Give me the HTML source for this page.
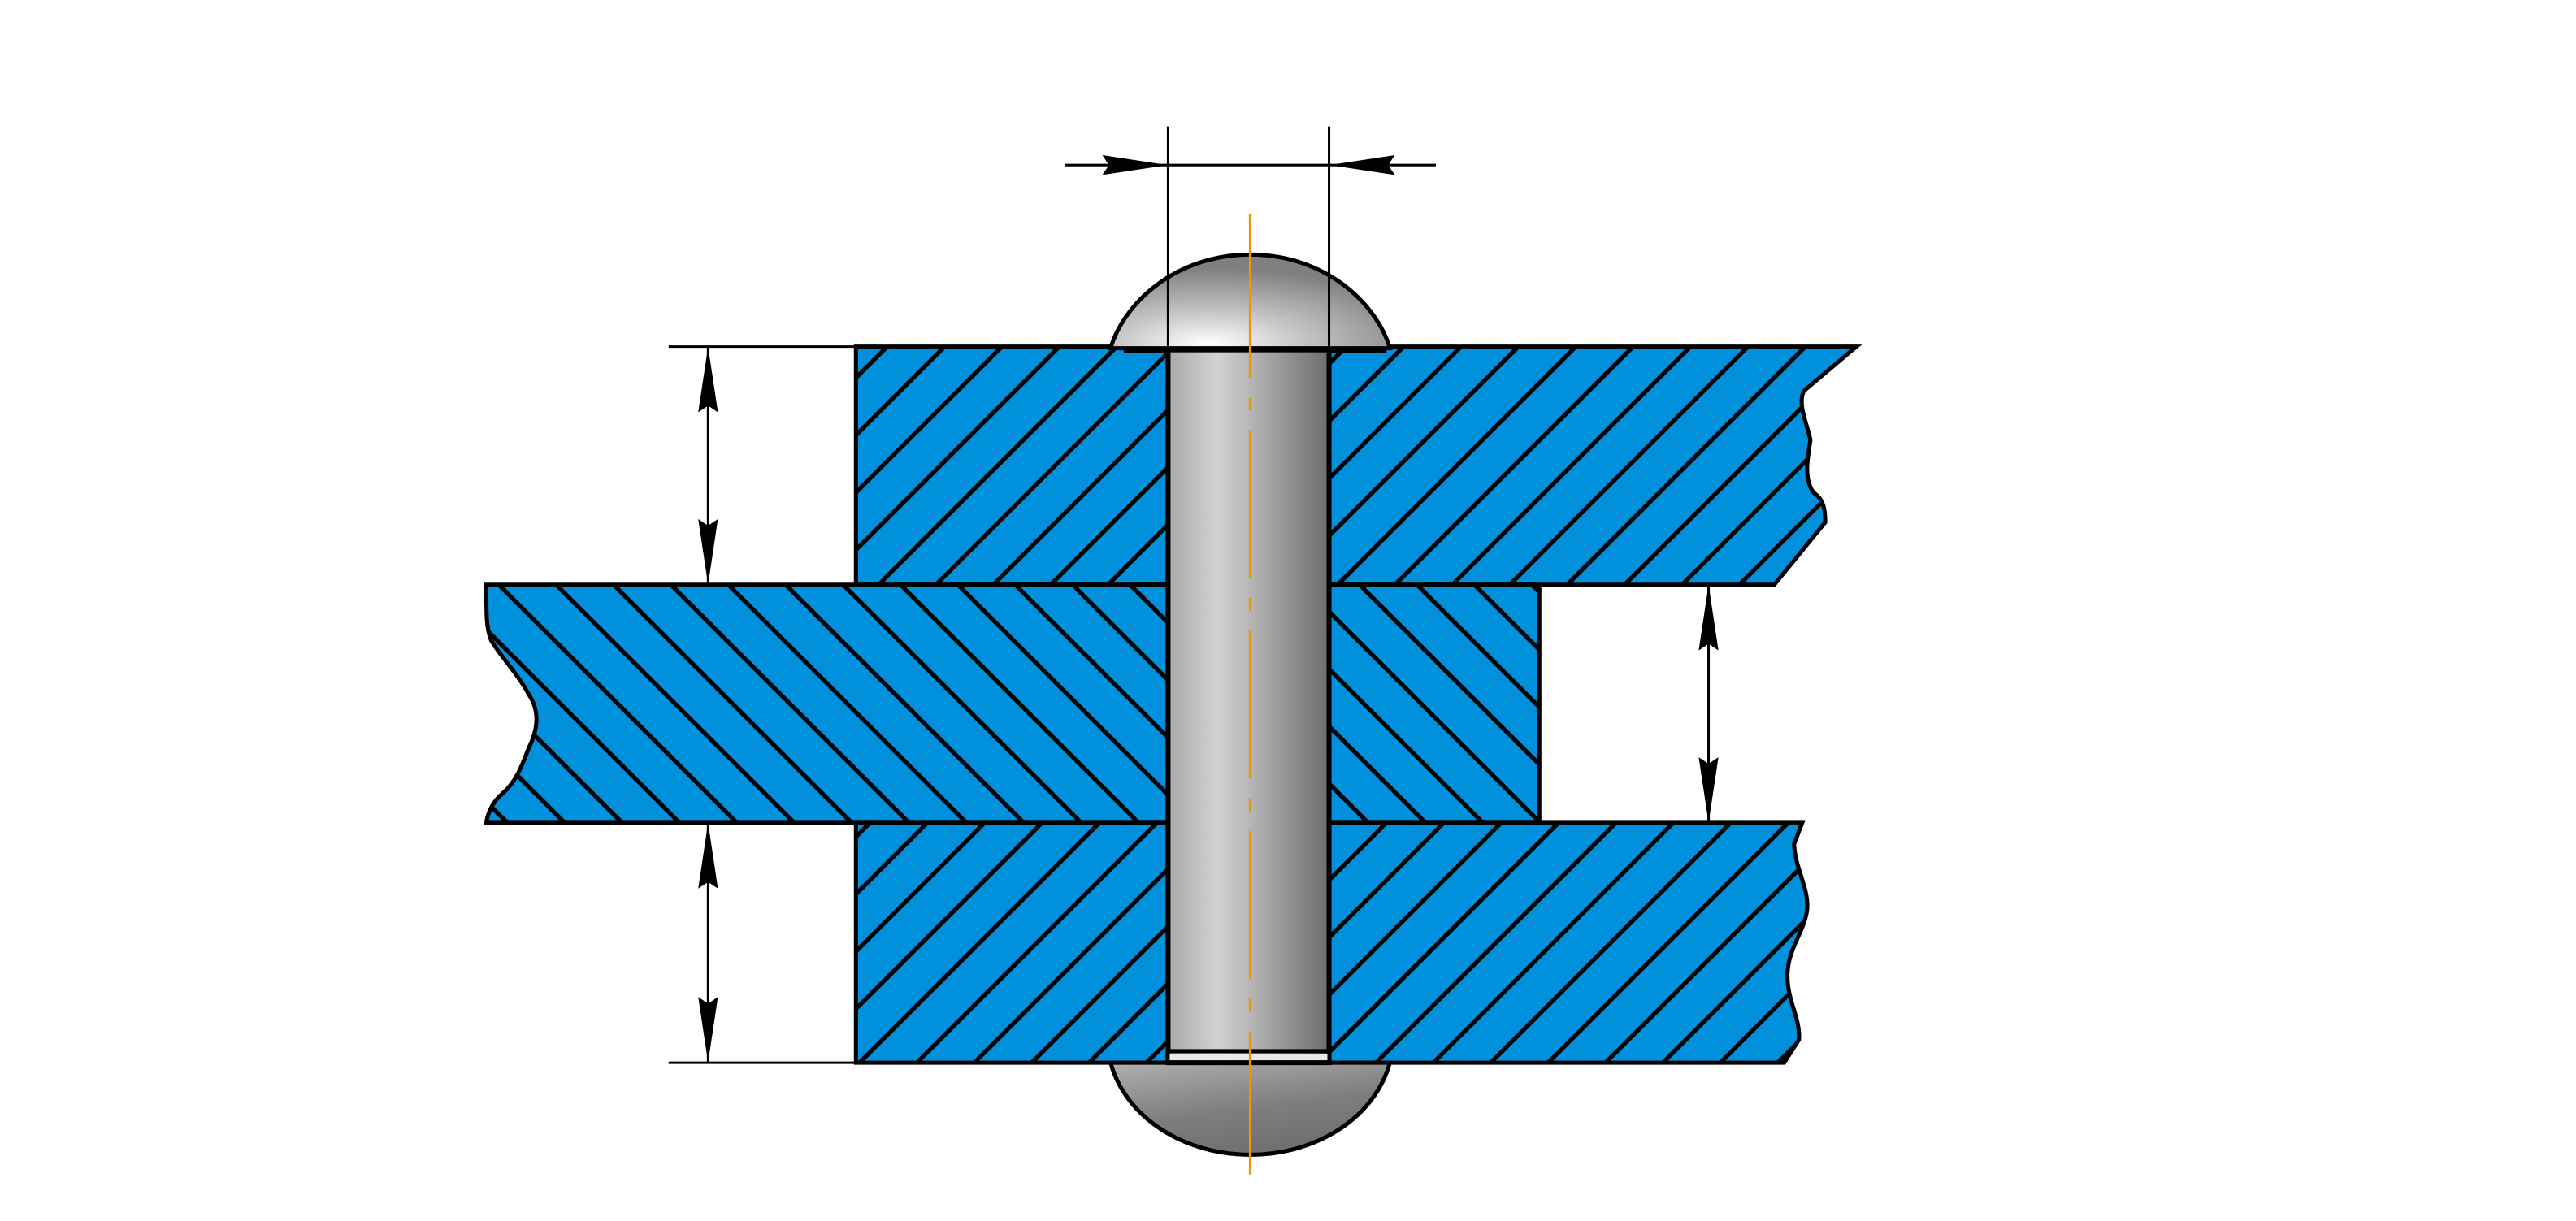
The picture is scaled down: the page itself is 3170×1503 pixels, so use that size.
<!DOCTYPE html>
<html><head><meta charset="utf-8"><style>
html,body{margin:0;padding:0;background:#fff;}
svg{display:block;}
</style></head><body>
<svg width="3170" height="1503" viewBox="0 0 1568 743.4" preserveAspectRatio="none" xmlns="http://www.w3.org/2000/svg">
<defs>
<pattern id="hf" patternUnits="userSpaceOnUse" width="24.7" height="24.7" patternTransform="rotate(45)">
<rect width="24.7" height="24.7" fill="#0090DC"/>
<line x1="12.35" y1="-1" x2="12.35" y2="25.7" stroke="#000" stroke-width="2.6"/>
</pattern>
<pattern id="hb" patternUnits="userSpaceOnUse" width="24.7" height="24.7" patternTransform="rotate(-45)">
<rect width="24.7" height="24.7" fill="#0090DC"/>
<line x1="12.35" y1="-1" x2="12.35" y2="25.7" stroke="#000" stroke-width="2.6"/>
</pattern>
<linearGradient id="shank" x1="0" x2="1" y1="0" y2="0">
<stop offset="0" stop-color="#a8a8a8"/>
<stop offset="0.3" stop-color="#d2d2d2"/>
<stop offset="0.55" stop-color="#b0b0b0"/>
<stop offset="0.8" stop-color="#8a8a8a"/>
<stop offset="1" stop-color="#6e6e6e"/>
</linearGradient>
<radialGradient id="headT" cx="0.35" cy="0.95" r="0.8">
<stop offset="0" stop-color="#ffffff"/>
<stop offset="0.4" stop-color="#c8c8c8"/>
<stop offset="1" stop-color="#808080"/>
</radialGradient>
<linearGradient id="headB" x1="0" y1="0" x2="0.4" y2="1">
<stop offset="0" stop-color="#b0b0b0"/>
<stop offset="0.6" stop-color="#7e7e7e"/>
<stop offset="1" stop-color="#707070"/>
</linearGradient>
<marker id="ar" viewBox="0 0 40 12" refX="40" refY="6" markerWidth="40" markerHeight="12" markerUnits="userSpaceOnUse" orient="auto">
<path d="M0,0 L40,6 L0,12 L4,6 Z" fill="#000"/>
</marker>
<marker id="as" viewBox="0 0 40 12" refX="40" refY="6" markerWidth="40" markerHeight="12" markerUnits="userSpaceOnUse" orient="auto-start-reverse">
<path d="M0,0 L40,6 L0,12 L4,6 Z" fill="#000"/>
</marker>
</defs>

<path d="M521,211 L1130,211 L1098,238 C1094,246 1100,258 1102,268 C1100,280 1098,292 1104,300 C1110,304 1111,310 1111,318 L1080,356 L521,356 Z" fill="url(#hf)" stroke="#000" stroke-width="2.5"/>
<path d="M296,356 L937,356 L937,501 L296,501 C297,494 300,488 306,483 C315,475 318,465 322,455 C328,443 328,432 322,423 C315,410 305,400 299,390 C296,383 296,375 296,356 Z" fill="url(#hb)" stroke="#000" stroke-width="2.5"/>
<path d="M521,501 L1097,501 L1092,514 C1093,530 1101,540 1100,554 C1098,568 1088,578 1088,594 C1088,610 1096,620 1095,633 L1086,647 L521,647 Z" fill="url(#hf)" stroke="#000" stroke-width="2.5"/>

<path d="M676,212 C684,185 715,155 761,155 C807,155 838,185 846,212 Z" fill="url(#headT)" stroke="#000" stroke-width="2.5"/>
<line x1="684" y1="213" x2="844" y2="213" stroke="#000" stroke-width="4"/>
<path d="M676,647 C685,680 720,703 761,703 C802,703 837,680 846,647 Z" fill="url(#headB)" stroke="#000" stroke-width="2.5"/>
<rect x="711" y="213" width="98" height="434" fill="url(#shank)" stroke="#000" stroke-width="3"/>
<line x1="712" y1="640" x2="808" y2="640" stroke="#000" stroke-width="2.5"/>
<rect x="712" y="641.5" width="96" height="4" fill="#e8e8e8"/>

<line x1="761" y1="130" x2="761" y2="715" stroke="#E8960A" stroke-width="1.6" stroke-dasharray="100,12,8,12,90,12,8,12,90,12,8,12,90,12,8,12,400"/>

<line x1="711" y1="77" x2="711" y2="211" stroke="#000" stroke-width="1.5"/>
<line x1="809" y1="77" x2="809" y2="211" stroke="#000" stroke-width="1.5"/>
<line x1="648" y1="100.5" x2="711" y2="100.5" stroke="#000" stroke-width="1.5" marker-end="url(#ar)"/>
<line x1="874" y1="100.5" x2="809" y2="100.5" stroke="#000" stroke-width="1.5" marker-end="url(#ar)"/>
<line x1="711" y1="100.5" x2="809" y2="100.5" stroke="#000" stroke-width="1.5"/>

<line x1="407" y1="211" x2="521" y2="211" stroke="#000" stroke-width="1.5"/>
<line x1="407" y1="647" x2="521" y2="647" stroke="#000" stroke-width="1.5"/>
<line x1="431" y1="211" x2="431" y2="356" stroke="#000" stroke-width="1.5" marker-start="url(#as)" marker-end="url(#as)"/>
<line x1="431" y1="501" x2="431" y2="647" stroke="#000" stroke-width="1.5" marker-start="url(#as)" marker-end="url(#as)"/>
<line x1="1040" y1="356" x2="1040" y2="501" stroke="#000" stroke-width="1.5" marker-start="url(#as)" marker-end="url(#as)"/>
</svg>
</body></html>
